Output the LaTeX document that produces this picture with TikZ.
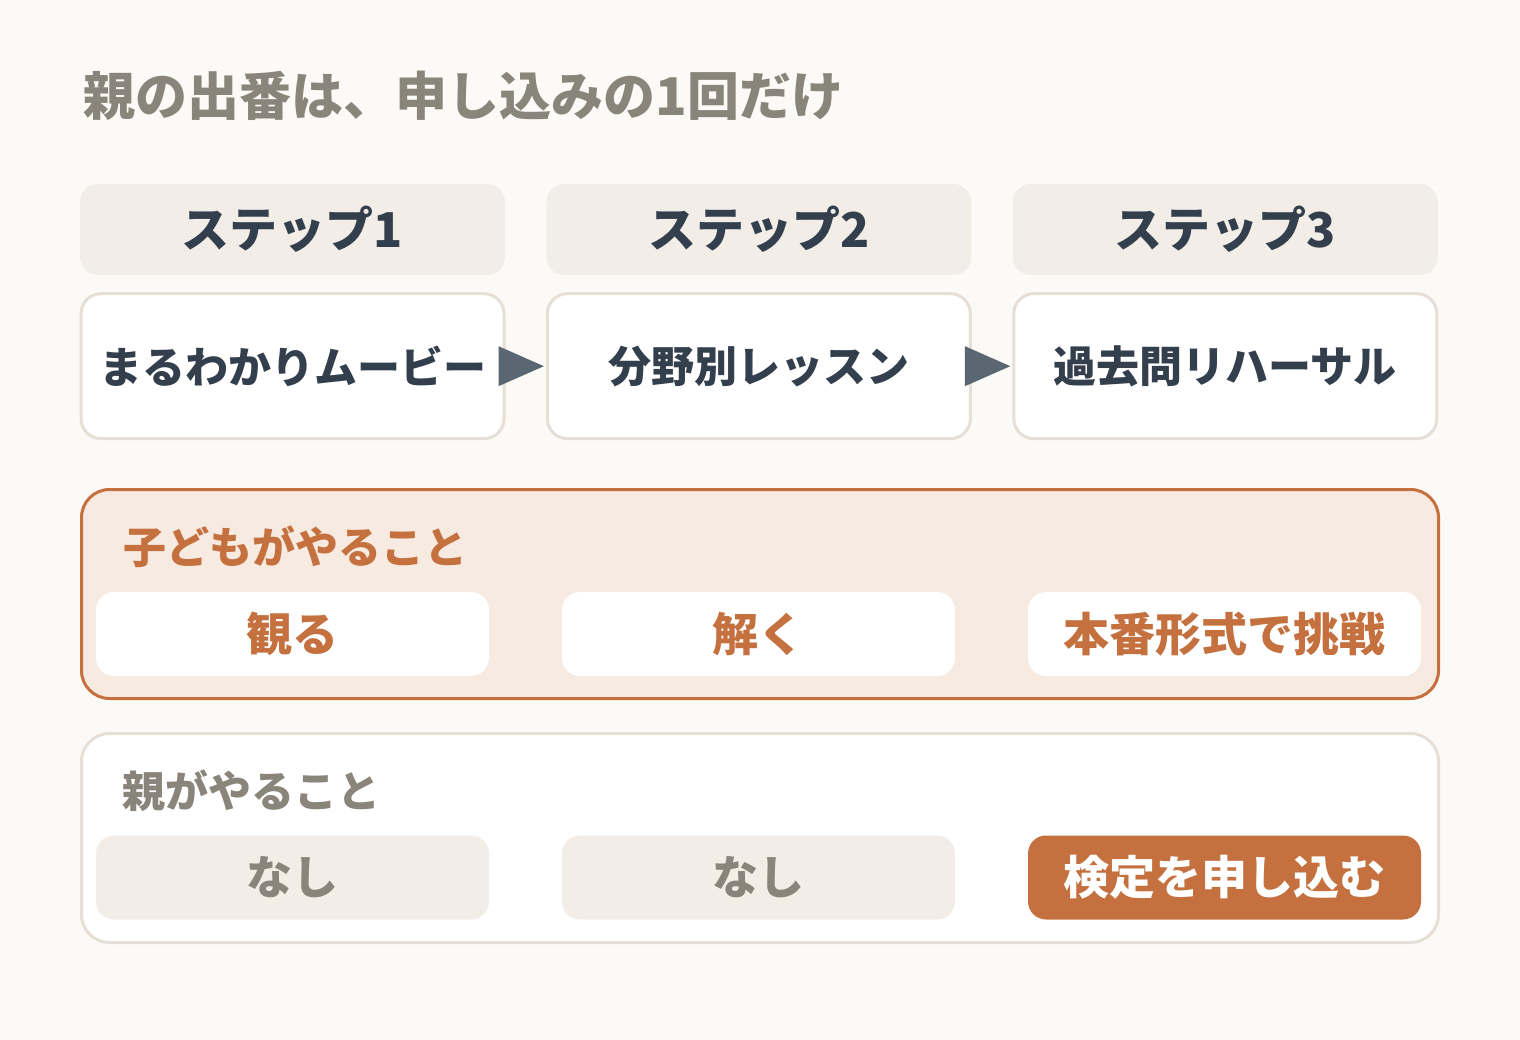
\documentclass[tikz,border=0pt]{standalone}
\usepackage{fontspec}
\setmainfont{Noto Sans CJK JP}
\usetikzlibrary{positioning}

\definecolor{paper}{HTML}{FBFAF6}
\definecolor{sand}{HTML}{F2EDE7}
\definecolor{rim}{HTML}{E5DFD6}
\definecolor{ink}{HTML}{333F4D}
\definecolor{slate}{HTML}{5A6773}
\definecolor{rust}{HTML}{C5713F}
\definecolor{blush}{HTML}{F6EAE1}
\definecolor{stone}{HTML}{8A857A}

\tikzset{
  big/.style={font=\bfseries\fontsize{52}{58}\selectfont},
  mid/.style={font=\bfseries\fontsize{43}{50}\selectfont},
  stephead/.style={font=\bfseries\fontsize{48}{54}\selectfont, fill=sand, text=ink, rounded corners=18pt, minimum width=425pt, minimum height=91pt, inner sep=0pt},
  stepcard/.style={mid, fill=white, draw=rim, line width=3pt, text=ink, rounded corners=20pt, minimum width=423pt, minimum height=145pt, inner sep=0pt},
  panel/.style={line width=3pt, rounded corners=28pt, minimum width=1357pt, minimum height=209pt, inner sep=0pt},
  pill/.style={font=\bfseries\fontsize{46}{52}\selectfont, rounded corners=18pt, minimum width=393pt, minimum height=84pt, inner sep=0pt},
  flow/.style={fill=slate}
}

\begin{document}
\begin{tikzpicture}[x=1pt,y=-1pt] % Tikz environment
\path[use as bounding box, fill=paper] (0,0) rectangle (1520,1040);

\node[big, text=stone, anchor=west] (title) at (80,96) {親の出番は、申し込みの1回だけ};

% three steps
\node[stephead] (head1) at (292.5,229.5) {ステップ1};
\node[stephead, right=41pt of head1] (head2) {ステップ2};
\node[stephead, right=41pt of head2] (head3) {ステップ3};
\node[stepcard, below=17pt of head1] (card1) {まるわかりムービー};
\node[stepcard, below=17pt of head2] (card2) {分野別レッスン};
\node[stepcard, below=17pt of head3] (card3) {過去問リハーサル};
% arrow heads sit over the gap between the cards
\fill[flow] ([xshift=-7pt,yshift=20pt]card1.east) -- ([xshift=-2pt]card2.west) -- ([xshift=-7pt,yshift=-20pt]card1.east) -- cycle;
\fill[flow] ([xshift=-7pt,yshift=20pt]card2.east) -- ([xshift=-2pt]card3.west) -- ([xshift=-7pt,yshift=-20pt]card2.east) -- cycle;

% what the child does
\node[panel, fill=blush, draw=rust] (kid) at (760,594) {};
\node[mid, text=rust, anchor=west] (kidlabel) at ([xshift=40pt,yshift=-59pt]kid.north west) {子どもがやること};
\node[pill, fill=white, text=rust] (watch) at (292.5,634) {観る};
\node[pill, fill=white, text=rust] (solve) at (758.5,634) {解く};
\node[pill, fill=white, text=rust] (try) at (1224.5,634) {本番形式で挑戦};

% what the parent does
\node[panel, fill=white, draw=rim] (parent) at (760,838) {};
\node[mid, text=stone, anchor=west] (parentlabel) at ([xshift=39pt,yshift=-59pt]parent.north west) {親がやること};
\node[pill, fill=sand, text=stone] (none1) at (292.5,877.5) {なし};
\node[pill, fill=sand, text=stone] (none2) at (758.5,877.5) {なし};
\node[pill, fill=rust, text=white] (apply) at (1224.5,877.5) {検定を申し込む};
\end{tikzpicture}
\end{document}
